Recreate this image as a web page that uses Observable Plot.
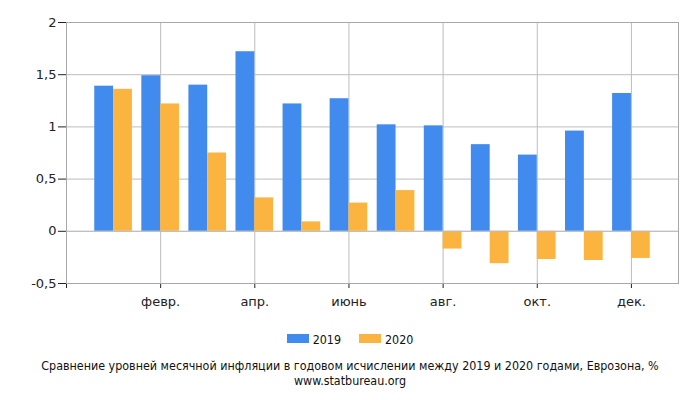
<!DOCTYPE html>
<html><head><meta charset="utf-8">
<script src="https://cdn.jsdelivr.net/npm/d3@7"></script>
<script src="https://cdn.jsdelivr.net/npm/@observablehq/plot@0.6"></script>
<style>
body{margin:0;background:#fff;width:700px;height:400px;overflow:hidden;font-family:"DejaVu Sans","Verdana",sans-serif;}
#legend{position:absolute;top:332px;left:0;width:700px;text-align:center;font-family:"DejaVu Sans Condensed","DejaVu Sans",sans-serif;font-size:12.4px;color:#111;}
#legend span.sw{display:inline-block;width:22px;height:9px;vertical-align:middle;margin-right:4px;position:relative;top:-2px;}
#legend span.item{margin:0 9px;}
.cap{position:absolute;left:0;width:700px;text-align:center;font-family:"DejaVu Sans Condensed","DejaVu Sans",sans-serif;font-size:12.4px;line-height:14px;color:#111;}
#caption1{top:359px;}
#caption2{top:374px;}
#chart{position:absolute;top:0;left:0;}
</style></head><body>
<div id="chart"></div>
<div id="legend"></div>
<div class="cap" id="caption1">Сравнение уровней месячной инфляции в годовом исчислении между 2019 и 2020 годами, Еврозона, %</div>
<div class="cap" id="caption2">www.statbureau.org</div>
<script>
const months = ["янв.","февр.","март","апр.","май","июнь","июль","авг.","сент.","окт.","нояб.","дек."];
const series = ["2019","2020"];
const colors = ["#428BEE","#FBB43F"];
const values2019 = [1.39,1.49,1.40,1.72,1.22,1.27,1.02,1.01,0.83,0.73,0.96,1.32];
const values2020 = [1.36,1.22,0.75,0.32,0.09,0.27,0.39,-0.17,-0.31,-0.27,-0.28,-0.26];
const yTicks = [-0.5,0,0.5,1,1.5,2];
const xTicks = [0,2,4,6,8,10,12];

const rows = [];
months.forEach((name,i)=>{
  rows.push({m:i+1, s:series[0], v:values2019[i], off:-1});
  rows.push({m:i+1, s:series[1], v:values2020[i], off:0});
});
const bw = 0.4;

const chart = Plot.plot({
  width:700, height:320,
  marginLeft:66, marginRight:22, marginTop:22, marginBottom:37,
  style:{fontFamily:"DejaVu Sans, sans-serif", fontSize:"13px", color:"#222", background:"#fff"},
  x:{type:"linear", domain:[0,13], ticks:xTicks, tickFormat:d=> d===0?"":months[d-1], tickSize:5, tickPadding:8, label:null},
  y:{domain:[-0.5,2], ticks:yTicks, tickFormat:d=>String(d).replace(".",","), tickSize:8, tickPadding:2, label:null},
  color:{domain:series, range:colors},
  marks:[
    Plot.ruleY(yTicks,{stroke:"#bdbdbd", strokeWidth:1}),
    Plot.ruleX(xTicks.filter(d=>d>0),{stroke:"#bdbdbd", strokeWidth:1}),
    Plot.rectY(rows,{x1:d=>d.m+d.off*bw, x2:d=>d.m+(d.off+1)*bw, y1:0, y2:"v", fill:"s"}),
    Plot.frame({stroke:"#a8a8a8"}),
    Plot.ruleY([0],{stroke:"#bdbdbd"})
  ]
});
document.getElementById("chart").appendChild(chart);
const svg = d3.select(chart);
svg.selectAll("[aria-label='x-axis tick'] path, [aria-label='y-axis tick'] path").attr("stroke","#222");

const lg = document.getElementById("legend");
series.forEach((s,i)=>{
  const it = document.createElement("span"); it.className="item";
  const sw = document.createElement("span"); sw.className="sw"; sw.style.background=colors[i];
  it.appendChild(sw); it.appendChild(document.createTextNode(s));
  lg.appendChild(it);
});
</script>
</body></html>
